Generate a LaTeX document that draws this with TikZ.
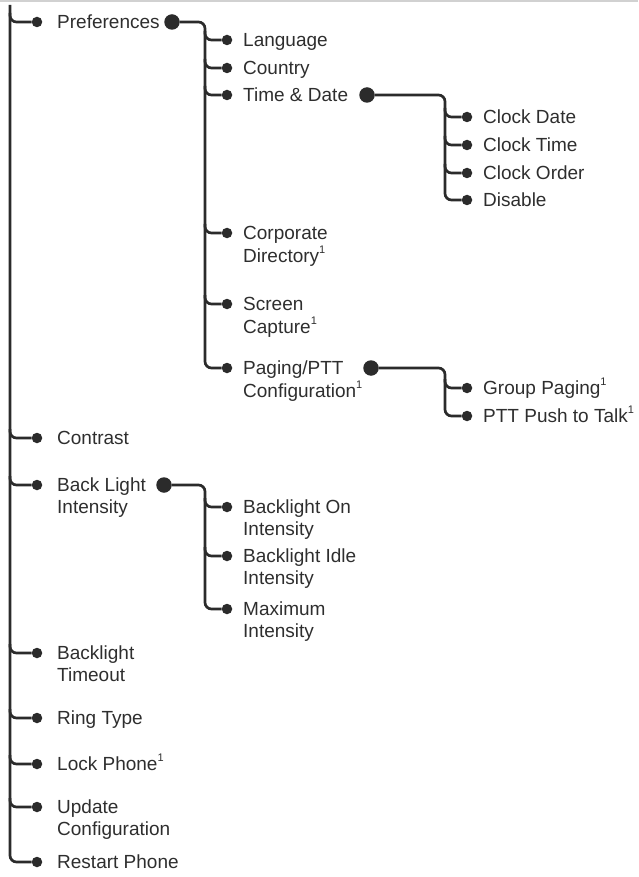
\documentclass[tikz,border=0pt]{standalone}
\usepackage{fontspec}
\setmainfont{Liberation Sans}
\definecolor{ln}{HTML}{2B2B2B}
\definecolor{txt}{HTML}{2E2E2E}
\tikzset{
  lbl/.style={anchor=base west, inner sep=0pt, text=txt,
    font=\fontsize{19}{21.5}\selectfont},
  dot/.style={circle, fill=ln, inner sep=0pt, minimum size=10.5pt},
  bigdot/.style={circle, fill=ln, inner sep=0pt, minimum size=15.5pt},
  wire/.style={draw=ln, line width=2.7pt, rounded corners=6.5pt},
}
\newcommand{\fn}{\raisebox{0.45em}{\fontsize{11}{11}\selectfont 1}}
\newcommand{\two}[2]{\begin{tabular}[t]{@{}l@{}}#1\\#2\end{tabular}}
\begin{document}
\begin{tikzpicture}[x=1pt, y=-1pt]
\useasboundingbox (0,0) rectangle (638,877);
\draw[black!18, line width=1.5pt] (0,1) -- (638,1);
% trunks
\coordinate (top) at (10,5);
\coordinate (t1) at (205,0);
\coordinate (t2) at (445,0);
% level 1
\foreach \n/\y/\t in {pref/22/{Preferences}, contr/438/{Contrast},
    bl/485/{\two{Back Light}{Intensity}}, blto/653/{\two{Backlight}{Timeout}},
    ring/718/{Ring Type}, lock/764/{Lock Phone\fn},
    upd/807/{\two{Update}{Configuration}}, rst/862/{Restart Phone}} {
  \node[dot] (\n) at (37,\y) {};
  \node[lbl] (\n-t) at (57,\y+6.5) {\t};
}
% level 2
\foreach \n/\y/\t in {lang/40/{Language}, ctry/68/{Country},
    td/95/{Time \& Date}, corp/233/{\two{Corporate}{Directory\fn}},
    scr/304/{\two{Screen}{Capture\fn}}, pag/368/{\two{Paging/PTT}{Configuration\fn}},
    blon/507/{\two{Backlight On}{Intensity}},
    blidle/556/{\two{Backlight Idle}{Intensity}},
    maxi/609/{\two{Maximum}{Intensity}}} {
  \node[dot] (\n) at (227,\y) {};
  \node[lbl] (\n-t) at (243,\y+6.5) {\t};
}
% level 3
\foreach \n/\y/\t in {cdate/117/{Clock Date}, ctime/145/{Clock Time},
    cord/173/{Clock Order}, dis/200/{Disable},
    grp/388/{Group Paging\fn}, ptt/416/{PTT Push to Talk\fn}} {
  \node[dot] (\n) at (467,\y) {};
  \node[lbl] (\n-t) at (483,\y+6.5) {\t};
}
% submenu markers
\node[bigdot] (pref-b) at (172,22) {};
\node[bigdot] (td-b) at (367,95) {};
\node[bigdot] (pag-b) at (371,368) {};
\node[bigdot] (bl-b) at (164,485) {};
% connectors
\draw[wire] (top) |- (rst);
\foreach \n in {pref,contr,bl,blto,ring,lock,upd}
  \draw[wire] ([yshift=9pt]\n -| top) |- (\n);
\draw[wire] (pref-b) -| (pag -| t1) -- (pag);
\foreach \n in {lang,ctry,td,corp,scr}
  \draw[wire] ([yshift=9pt]\n -| t1) |- (\n);
\draw[wire] (bl-b) -| (maxi -| t1) -- (maxi);
\foreach \n in {blon,blidle}
  \draw[wire] ([yshift=9pt]\n -| t1) |- (\n);
\draw[wire] (td-b) -| (dis -| t2) -- (dis);
\foreach \n in {cdate,ctime,cord}
  \draw[wire] ([yshift=9pt]\n -| t2) |- (\n);
\draw[wire] (pag-b) -| (ptt -| t2) -- (ptt);
\draw[wire] ([yshift=9pt]grp -| t2) |- (grp);
\end{tikzpicture}
\end{document}
